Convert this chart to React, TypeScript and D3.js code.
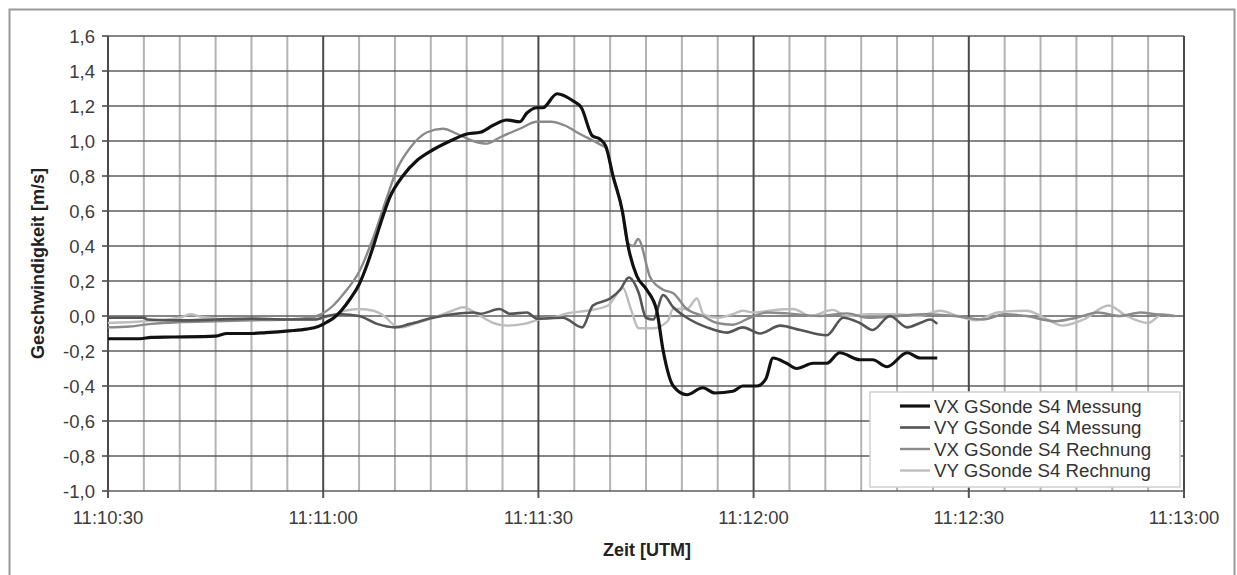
import React from "react";
import * as d3 from "d3";

// time in seconds after 11:10:30, value in m/s
const seriesNames = [
  "VX GSonde S4 Messung",
  "VY GSonde S4 Messung",
  "VX GSonde S4 Rechnung",
  "VY GSonde S4 Rechnung",
];
const seriesColors = ["#111111", "#555555", "#8a8a8a", "#bdbdbd"];
const seriesWidths = [3.2, 2.6, 2.4, 2.4];

const vxMessung: [number, number][] = [
  [0, -0.13], [4.5, -0.13], [6, -0.122], [9, -0.12], [15, -0.115], [16.6, -0.1], [20, -0.1],
  [22, -0.095], [25.2, -0.085], [27.7, -0.075], [29.3, -0.06], [30.5, -0.035], [31.5, -0.01],
  [32.5, 0.03], [33.8, 0.1], [35, 0.18], [36, 0.28], [37, 0.4], [38, 0.53], [39.3, 0.68],
  [41.1, 0.8], [43.1, 0.89], [45.3, 0.95], [47.7, 1.0], [50, 1.04], [51.9, 1.05], [53.7, 1.09],
  [55.6, 1.12], [57.4, 1.11], [58.4, 1.16], [59.8, 1.19], [60.6, 1.19], [62.6, 1.27],
  [64.8, 1.23], [66, 1.19], [67.5, 1.03], [68.6, 1.01], [69.4, 0.97], [70.4, 0.8], [71.7, 0.6],
  [72.5, 0.4], [73.7, 0.23], [75.1, 0.15], [76.5, 0.03], [77.4, -0.2], [78.8, -0.4],
  [80.7, -0.45], [82.9, -0.41], [84.6, -0.44], [87.1, -0.43], [88.5, -0.4], [90.5, -0.4],
  [91.7, -0.36], [92.7, -0.24], [94.6, -0.27], [96, -0.3], [98.3, -0.27], [100.2, -0.27],
  [102, -0.21], [104.8, -0.25], [106.6, -0.25], [108.6, -0.29], [111.4, -0.21], [113.2, -0.24],
  [115.6, -0.24],
];

const vyMessung: [number, number][] = [
  [0, -0.01], [5, -0.01], [5.5, -0.02], [10, -0.025], [15, -0.02], [20, -0.015], [25, -0.02],
  [29, -0.02], [30.5, 0.0], [32.5, 0.01], [35, 0.0], [37.5, -0.045], [40, -0.065],
  [42.1, -0.045], [45.3, -0.01], [48, 0.01], [50.9, 0.02], [51.9, 0.013], [54.6, 0.04],
  [56, 0.013], [58.4, 0.02], [59.8, -0.015], [63.4, -0.01], [66.1, -0.065], [67.6, 0.06],
  [70, 0.1], [71.4, 0.15], [72.6, 0.22], [74, 0.13], [75, -0.01], [76, -0.02], [77.4, 0.12],
  [78.8, 0.05], [80.7, -0.01], [83.5, -0.065], [86.3, -0.095], [88.5, -0.065], [90.9, -0.1],
  [93.7, -0.055], [96.5, -0.08], [100.2, -0.11], [102.5, -0.01], [104.8, -0.04],
  [106.6, -0.08], [109, 0.0], [111.4, -0.065], [113.2, -0.04], [114.6, -0.02], [115.6, -0.045],
];

const vxRechnung: [number, number][] = [
  [0, -0.065], [3, -0.06], [6, -0.045], [10, -0.035], [15, -0.03], [20, -0.025], [25, -0.02],
  [28, -0.01], [29.1, 0.0], [31.4, 0.06], [32.7, 0.12], [35.1, 0.26], [37, 0.45], [38.9, 0.68],
  [40.3, 0.84], [42.1, 0.96], [44.5, 1.05], [46.7, 1.07], [48.7, 1.04], [50.9, 1.0],
  [52.8, 0.985], [54.6, 1.02], [57.4, 1.07], [59.8, 1.11], [61.8, 1.11], [63.6, 1.09],
  [65.8, 1.04], [68.6, 0.98], [69.4, 0.96], [70.4, 0.8], [71.7, 0.6], [72.4, 0.42],
  [73.2, 0.4], [73.9, 0.44], [75.6, 0.22], [77.4, 0.15], [78.8, 0.13], [80.7, 0.04],
  [82.9, 0.0], [84.9, -0.04], [87.1, -0.05], [89.5, -0.01], [91.9, 0.02], [94.7, 0.015],
  [99, 0.0], [103, 0.015], [106, -0.01], [110, 0.0], [114, 0.01], [118, 0.0], [122, -0.02],
  [125, 0.01], [128, 0.0], [132, -0.03], [135, -0.01], [138, 0.02], [141, 0.0], [144, 0.02],
  [146, 0.01], [148.7, 0.0],
];

const vyRechnung: [number, number][] = [
  [0, -0.04], [5, -0.03], [10, -0.01], [11.5, 0.01], [13, -0.005], [18, -0.02], [22, -0.02],
  [28, -0.02], [31, 0.0], [33, 0.03], [35, 0.04], [37, 0.03], [38.5, 0.0], [40, -0.055],
  [41, -0.065], [43, -0.04], [45.3, -0.01], [48, 0.03], [49.5, 0.05], [51.5, 0.01],
  [53.7, -0.04], [55.6, -0.055], [58, -0.045], [60.6, -0.015], [62, -0.01], [64, 0.015],
  [66.8, 0.03], [69.7, 0.06], [71.8, 0.16], [72.8, 0.05], [74, -0.07], [76, -0.07],
  [78, -0.03], [78.8, 0.04], [80.7, 0.04], [82.1, 0.1], [83, 0.01], [85, -0.01], [87.1, 0.01],
  [88.5, 0.03], [90, 0.02], [93, 0.035], [95.5, 0.04], [98, 0.0], [101, 0.035], [103, 0.0],
  [106, 0.01], [110, 0.01], [113, 0.0], [116, 0.03], [118.5, 0.0], [121, -0.025], [124, 0.02],
  [128, 0.03], [131, -0.02], [133, -0.055], [136, -0.02], [139.5, 0.06], [142, 0.0],
  [145, -0.04], [147, 0.01], [148.7, 0.0],
];

const seriesData = [vxMessung, vyMessung, vxRechnung, vyRechnung];

const xTickSeconds = [0, 30, 60, 90, 120, 150];
const xTickLabels = ["11:10:30", "11:11:00", "11:11:30", "11:12:00", "11:12:30", "11:13:00"];
const yTicks = [-1.0, -0.8, -0.6, -0.4, -0.2, 0.0, 0.2, 0.4, 0.6, 0.8, 1.0, 1.2, 1.4, 1.6];

const W = 1237;
const H = 575;
const L = 108, R = 1184, T = 36, B = 491;
const FONT = "'Liberation Sans', Arial, sans-serif";

export default function App() {
  const x = d3.scaleLinear().domain([0, 150]).range([L, R]);
  const y = d3.scaleLinear().domain([-1, 1.6]).range([B, T]);
  const line = d3
    .line<[number, number]>()
    .x((d) => x(d[0]))
    .y((d) => y(d[1]))
    .curve(d3.curveMonotoneX);
  const minor = d3.range(5, 150, 5).filter((s) => s % 30 !== 0);
  const fmt = (v: number) => v.toFixed(1).replace(".", ",");

  const legX = 870, legY = 392, legW = 310, legH = 95;
  const rowY = [406, 427.5, 449, 470.5];

  return (
    <svg
      width={W}
      height={H}
      style={{ position: "absolute", left: 0, top: 0, background: "#fff" }}
      fontFamily={FONT}
    >
      <rect x={0} y={0} width={W} height={H} fill="#fff" />
      <rect x={9.5} y={9.5} width={1225} height={620} fill="none" stroke="#999" strokeWidth={2} />

      {/* minor vertical grid */}
      {minor.map((s) => (
        <line key={"mv" + s} x1={x(s)} x2={x(s)} y1={T} y2={B} stroke="#b3b3b3" strokeWidth={2} />
      ))}
      {/* horizontal grid */}
      {yTicks.map((v) => (
        <line key={"h" + v} x1={L} x2={R} y1={y(v)} y2={y(v)} stroke="#5e5e5e" strokeWidth={1.7} />
      ))}
      {/* major vertical grid */}
      {xTickSeconds.map((s) => (
        <line key={"Mv" + s} x1={x(s)} x2={x(s)} y1={T} y2={B} stroke="#4a4a4a" strokeWidth={2} />
      ))}

      {/* y ticks */}
      {yTicks.map((v) => (
        <g key={"yt" + v}>
          <line x1={L - 6} x2={L} y1={y(v)} y2={y(v)} stroke="#555" strokeWidth={1.7} />
          <text x={95} y={y(v)} dy="0.36em" textAnchor="end" fontSize={18.5} fill="#3c3c3c">
            {fmt(v)}
          </text>
        </g>
      ))}
      {/* x ticks */}
      {xTickSeconds.map((s, i) => (
        <g key={"xt" + s}>
          <line x1={x(s)} x2={x(s)} y1={B} y2={B + 7} stroke="#555" strokeWidth={2} />
          <text x={x(s)} y={524} textAnchor="middle" fontSize={18.5} fill="#3c3c3c">
            {xTickLabels[i]}
          </text>
        </g>
      ))}

      {/* series */}
      {seriesData
        .map((d, i) => ({ d, i }))
        .reverse()
        .map(({ d, i }) => (
          <path
            key={"s" + i}
            d={line(d) || ""}
            fill="none"
            stroke={seriesColors[i]}
            strokeWidth={seriesWidths[i]}
            strokeLinejoin="round"
          />
        ))}

      {/* axis titles */}
      <text
        transform={`translate(44, ${(T + B) / 2}) rotate(-90)`}
        textAnchor="middle"
        fontSize={18}
        fontWeight="bold"
        fill="#222"
      >
        Geschwindigkeit [m/s]
      </text>
      <text x={647} y={556} textAnchor="middle" fontSize={18} fontWeight="bold" fill="#222">
        Zeit [UTM]
      </text>

      {/* legend */}
      <rect x={legX} y={legY} width={legW} height={legH} fill="#fff" stroke="#d0d0d0" strokeWidth={1.5} />
      {seriesNames.map((n, i) => (
        <g key={"lg" + i}>
          <line
            x1={900}
            x2={930}
            y1={rowY[i]}
            y2={rowY[i]}
            stroke={seriesColors[i]}
            strokeWidth={seriesWidths[i]}
          />
          <text x={934} y={rowY[i]} dy="0.36em" fontSize={18.7} fill="#333">
            {n}
          </text>
        </g>
      ))}
    </svg>
  );
}
